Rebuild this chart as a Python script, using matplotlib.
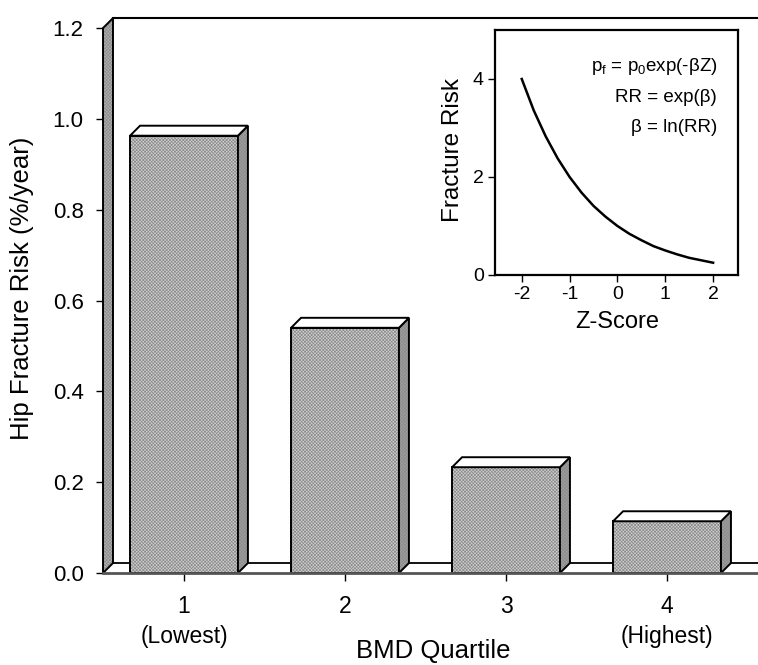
import matplotlib
matplotlib.use('Agg')
import matplotlib.pyplot as plt
from matplotlib.patches import Polygon

plt.rcParams['font.family'] = ['Liberation Sans', 'DejaVu Sans']
plt.rcParams['mathtext.default'] = 'regular'
plt.rcParams['axes.unicode_minus'] = False
plt.rcParams['hatch.linewidth'] = 0.5

# main chart data
quartiles = [1, 2, 3, 4]
quartile_labels = ['1\n(Lowest)', '2', '3', '4\n(Highest)']
hip_risk = [0.963, 0.54, 0.233, 0.114]
yticks = [0.0, 0.2, 0.4, 0.6, 0.8, 1.0, 1.2]

# inset curve
z_score = [-2.0, -1.75, -1.5, -1.25, -1.0, -0.75, -0.5, -0.25, 0.0,
           0.25, 0.5, 0.75, 1.0, 1.25, 1.5, 1.75, 2.0]
fracture_risk = [4.0, 3.36, 2.83, 2.38, 2.0, 1.68, 1.41, 1.19, 1.0,
                 0.84, 0.71, 0.59, 0.5, 0.42, 0.35, 0.3, 0.25]
inset_xticks = [-2, -1, 0, 1, 2]
inset_yticks = [0, 2, 4]
formulas = ['p$_f$ = p$_0$exp(-βZ)', 'RR = exp(β)', 'β = ln(RR)']

FRONT = '#d0d0d0'
SIDE = '#a0a0a0'
WALL = '#b0b0b0'
SPECKLE = 'xxxxxxxxxx'
SPECKLE_COL = '#8c8c8c'
W = 0.67
DX, DY = 0.062, 0.022
XMIN, XMAX = 0.497, 4.565
YTOP = 1.2


def face(ax, pts, fc, speckle=True, z=3, clip=True):
    # textured fill first, black outline on top
    if speckle:
        ax.add_patch(Polygon(pts, closed=True, fc=fc, hatch=SPECKLE,
                             ec=SPECKLE_COL, lw=0, zorder=z, clip_on=clip))
        ax.add_patch(Polygon(pts, closed=True, fill=False, ec='black',
                             lw=1.4, zorder=z, clip_on=clip))
    else:
        ax.add_patch(Polygon(pts, closed=True, fc=fc, ec='black', lw=1.4,
                             zorder=z, clip_on=clip))


fig = plt.figure(figsize=(7.58, 6.65), dpi=100)
ax = fig.add_axes([0.1359, 0.1383, 0.8641, 0.8195])
ax.set_xlim(XMIN, XMAX)
ax.set_ylim(0, YTOP)
for s in ax.spines.values():
    s.set_visible(False)

# 3d box: left wall, floor, top edge
face(ax, [(XMIN, 0), (XMIN + DX, DY), (XMIN + DX, YTOP + DY), (XMIN, YTOP)],
     WALL, z=2, clip=False)
ax.plot([XMIN + DX, XMAX], [DY, DY], color='black', lw=1.3, zorder=1)
ax.plot([XMIN + DX, XMAX], [YTOP + DY, YTOP + DY], color='black', lw=1.5,
        zorder=1, clip_on=False)
ax.plot([XMIN, XMAX], [0, 0], color='#555555', lw=2, zorder=4, clip_on=False)

# bars with side and top faces
ax.bar(quartiles, hip_risk, width=W, color=FRONT, hatch=SPECKLE,
       edgecolor=SPECKLE_COL, linewidth=0, zorder=3)
ax.bar(quartiles, hip_risk, width=W, fill=False, edgecolor='black',
       linewidth=1.4, zorder=3)
for x, h in zip(quartiles, hip_risk):
    l, r = x - W / 2, x + W / 2
    face(ax, [(r, 0), (r + DX, DY), (r + DX, h + DY), (r, h)], SIDE)
    face(ax, [(l, h), (l + DX, h + DY), (r + DX, h + DY), (r, h)], 'white',
         speckle=False)

ax.set_yticks(yticks, labels=[f'{v:.1f}' for v in yticks])
ax.set_xticks(quartiles, labels=quartile_labels)
ax.tick_params(axis='y', direction='out', length=5, width=1, pad=9, labelsize=16)
ax.tick_params(axis='x', direction='out', length=6, width=1, pad=10, labelsize=16.5)
for lab in ax.get_xticklabels():
    lab.set_linespacing(1.35)

ax.set_ylabel('Hip Fracture Risk (%/year)', fontsize=18.5)
ax.yaxis.set_label_coords(-0.124, 0.523)
ax.yaxis.label.set_va('center')
ax.set_xlabel('BMD Quartile', fontsize=18.5)
ax.xaxis.set_label_coords(0.504, -0.143)
ax.xaxis.label.set_va('center')

# inset
ins = fig.add_axes([0.653, 0.5865, 0.3206, 0.3684])
ins.plot(z_score, fracture_risk, color='black', lw=1.8)
ins.set_xlim(-2.56, 2.52)
ins.set_ylim(0, 5)
ins.set_xticks(inset_xticks)
ins.set_yticks(inset_yticks)
for s in ins.spines.values():
    s.set_linewidth(1.6)
ins.tick_params(direction='out', length=5, width=1, pad=3, labelsize=14)
ins.set_xlabel('Z-Score', fontsize=17)
ins.xaxis.set_label_coords(0.502, -0.19)
ins.xaxis.label.set_va('center')
ins.set_ylabel('Fracture Risk', fontsize=17.5)
ins.yaxis.set_label_coords(-0.173, 0.51)
ins.yaxis.label.set_va('center')
for i, t in enumerate(formulas):
    ins.text(0.914, 0.849 - i * 0.123, t, transform=ins.transAxes,
             ha='right', va='center', fontsize=13.5)

plt.savefig('out.png', dpi=100)
